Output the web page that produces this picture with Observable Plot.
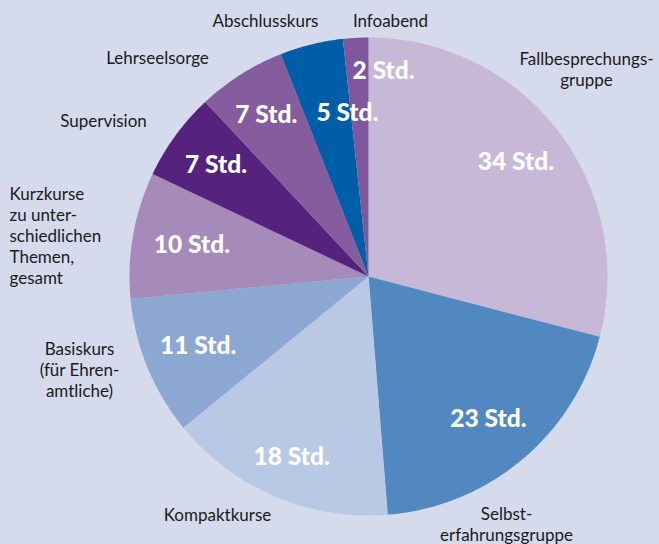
<!DOCTYPE html>
<html><head><meta charset="utf-8">
<script src="https://cdn.jsdelivr.net/npm/d3@7"></script>
<script src="https://cdn.jsdelivr.net/npm/@observablehq/plot@0.6"></script>
<style>
body{margin:0;background:#d5dbed;}
#chart svg{display:block;background:#d5dbed;}
</style>
</head><body><div id="chart"></div>
<script>
// ---- data ----
const categories = [
  "Fallbesprechungsgruppe", "Selbsterfahrungsgruppe", "Kompaktkurse",
  "Basiskurs (für Ehrenamtliche)", "Kurzkurse zu unterschiedlichen Themen, gesamt",
  "Supervision", "Lehrseelsorge", "Abschlusskurs", "Infoabend"
];
const hours = [34, 23, 18, 11, 10, 7, 7, 5, 2];
const categoryLabels = [
  "Fallbesprechungs-\ngruppe", "Selbst-\nerfahrungsgruppe", "Kompaktkurse",
  "Basiskurs\n(für Ehren-\namtliche)", "Kurzkurse\nzu unter-\nschiedlichen\nThemen,\ngesamt",
  "Supervision", "Lehrseelsorge", "Abschlusskurs", "Infoabend"
];
const unit = "Std.";
const colors = ["#c8b8d8", "#5288c0", "#b9c8e4", "#8ca7d2", "#a68aba", "#55227e", "#855c9e", "#005ea8", "#80579c"];

// ---- layout ----
const W = 659, H = 544, CX = 368, CY = 276, R = 239;
const valueRadius = [0.78, 0.78, 0.82, 0.77, 0.75, 0.79, 0.80, 0.69, 0.86];
const valueAngleNudge = [0, 0, 0, 0, 0, 0, 0, 6.5, 7.3]; // degrees
const outerAnchors = [
  {x: 586, y: 68, a: "middle"}, {x: 506, y: 523, a: "middle"}, {x: 217, y: 514, a: "middle"},
  {x: 79, y: 369, a: "middle"}, {x: 9, y: 235, a: "start"}, {x: 103, y: 120, a: "middle"},
  {x: 157, y: 57, a: "middle"}, {x: 265, y: 20, a: "middle"}, {x: 390, y: 20, a: "middle"}
];

const arcs = d3.pie().sort(null).value(d => d)(hours);
const slicePts = [];
arcs.forEach((p, i) => {
  const n = Math.max(4, Math.ceil((p.endAngle - p.startAngle) / (Math.PI / 360)));
  slicePts.push({cat: categories[i], x: CX, y: CY});
  for (let k = 0; k <= n; k++) {
    const a = p.startAngle + (p.endAngle - p.startAngle) * k / n;
    slicePts.push({cat: categories[i], x: CX + R * Math.sin(a), y: CY - R * Math.cos(a)});
  }
});
const valueTexts = arcs.map((p, i) => {
  const a = (p.startAngle + p.endAngle) / 2 + valueAngleNudge[i] * Math.PI / 180;
  const r = R * valueRadius[i];
  return {text: `${hours[i]} ${unit}`, x: CX + r * Math.sin(a), y: CY - r * Math.cos(a)};
});
const outerTexts = categoryLabels.map((t, i) => ({text: t, ...outerAnchors[i]}));

const font = "Lato, 'Open Sans', sans-serif";
const chart = Plot.plot({
  width: W, height: H, margin: 0,
  style: {background: "#d5dbed", fontFamily: font},
  x: {domain: [0, W], axis: null},
  y: {domain: [0, H], reverse: true, axis: null},
  color: {type: "ordinal", domain: categories, range: colors},
  marks: [
    Plot.line(slicePts, {x: "x", y: "y", z: "cat", fill: "cat", stroke: "none", curve: "linear"}),
    Plot.text(valueTexts, {x: "x", y: "y", text: "text", fill: "white", fontSize: 24.5, fontWeight: 900, textAnchor: "middle", lineAnchor: "middle"}),
    Plot.text(outerTexts.filter(d => d.a === "middle"), {x: "x", y: "y", text: "text", fill: "#1a1a1a", fontSize: 17, textAnchor: "middle", lineAnchor: "middle", lineHeight: 1.24}),
    Plot.text(outerTexts.filter(d => d.a === "start"), {x: "x", y: "y", text: "text", fill: "#1a1a1a", fontSize: 17, textAnchor: "start", lineAnchor: "middle", lineHeight: 1.24})
  ]
});
document.getElementById("chart").appendChild(chart);
</script>
</body></html>
